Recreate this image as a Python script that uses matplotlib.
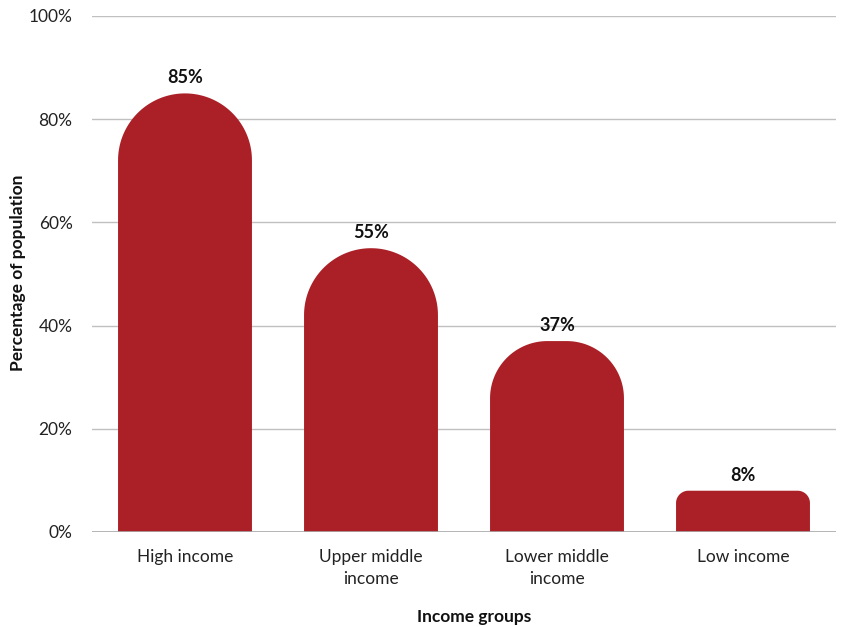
import numpy as np
import matplotlib.pyplot as plt
from matplotlib.patches import Polygon

plt.rcParams['font.family'] = ['Lato', 'DejaVu Sans']

categories = ["High income", "Upper middle\nincome", "Lower middle\nincome", "Low income"]
values = [85, 55, 37, 8]
value_labels = ["85%", "55%", "37%", "8%"]
yticks = [0, 20, 40, 60, 80, 100]

bar_color = "#ab2027"
width = 0.72

fig = plt.figure(figsize=(8.41, 6.27), dpi=100)
W, H = 841, 627
ax = fig.add_axes([92 / W, (H - 532) / H, (836 - 92) / W, (532 - 16) / H])
ax.set_xlim(-0.5, 3.5)
ax.set_ylim(0, 100)

# pixel scales so the rounded tops look circular
px_x = (836 - 92) / 4.0
px_y = (532 - 16) / 100.0


def rounded_bar(xc, h):
    half = width / 2
    r_px = min(half * px_x, 0.3 * h * px_y)
    rx = r_px / px_x
    ry = r_px / px_y
    t = np.linspace(0, np.pi / 2, 40)
    pts = [(xc - half, 0)]
    # left top corner
    for a in t:
        pts.append((xc - half + rx - rx * np.cos(a), h - ry + ry * np.sin(a)))
    # right top corner
    for a in t[::-1]:
        pts.append((xc + half - rx + rx * np.cos(a), h - ry + ry * np.sin(a)))
    pts.append((xc + half, 0))
    return Polygon(pts, closed=True, facecolor=bar_color, edgecolor="none", zorder=3)


x = np.arange(len(categories))
for xi, v, lab in zip(x, values, value_labels):
    ax.add_patch(rounded_bar(xi, v))
    ax.annotate(lab, xy=(xi, v), xytext=(0, 5), textcoords="offset points",
                ha="center", va="bottom", fontsize=13, fontweight="bold", color="#111111")

ax.set_yticks(yticks)
ax.set_yticklabels(["{}%".format(t) for t in yticks])
ax.set_xticks(x)
ax.set_xticklabels(categories, linespacing=1.5)
ax.tick_params(axis="both", length=0, labelsize=12.5, colors="#222222")
ax.tick_params(axis="y", pad=14)
ax.tick_params(axis="x", pad=12)

ax.grid(axis="y", color="#c0c0c0", linewidth=1, zorder=0)
ax.set_axisbelow(True)
for s in ax.spines.values():
    s.set_visible(False)
ax.axhline(0, color="#aaaaaa", linewidth=1.2, zorder=4)

fig.text(474 / W, 1 - 617 / H, "Income groups", ha="center", va="center",
         fontsize=12.5, fontweight="bold", color="#111111")
fig.text(18 / W, 1 - 273 / H, "Percentage of population", ha="center", va="center",
         rotation=90, fontsize=12.5, fontweight="bold", color="#111111")

plt.savefig("out.png", dpi=100)
